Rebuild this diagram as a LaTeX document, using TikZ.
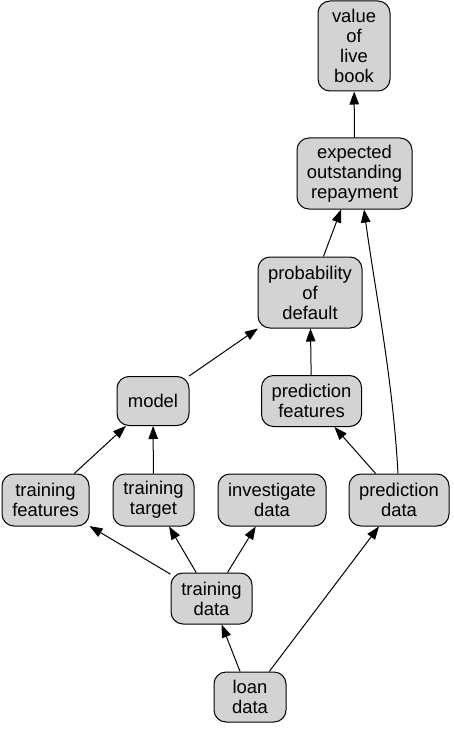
\documentclass[tikz,border=0pt]{standalone}
\usepackage{fontspec}
\setmainfont{Liberation Sans}
\usetikzlibrary{arrows.meta}
\definecolor{boxgray}{HTML}{D3D3D3}
\tikzset{
  box/.style={draw=black, fill=boxgray, rounded corners=12pt, line width=1pt,
    align=center, inner sep=0pt, font=\fontsize{18.4}{20}\selectfont},
  edge/.style={draw=black, line width=1pt, -{Triangle[length=13pt,width=9.5pt]}}
}
\begin{document}
\begin{tikzpicture}[x=1pt,y=-1pt]
\useasboundingbox (0,0) rectangle (454,730);
\node[box, minimum width=72pt, minimum height=90pt] (value) at (354,46) {value\\of\\live\\book};
\node[box, minimum width=115pt, minimum height=71pt] (expected) at (354.5,173.5) {expected\\outstanding\\repayment};
\node[box, minimum width=104pt, minimum height=71pt] (prob) at (310,292.5) {probability\\of\\default};
\node[box, minimum width=72pt, minimum height=49pt] (model) at (153,401) {model};
\node[box, minimum width=100pt, minimum height=51pt] (pfeat) at (311.5,401) {prediction\\features};
\node[box, minimum width=87pt, minimum height=52pt] (tfeat) at (45.5,500) {training\\features};
\node[box, minimum width=81pt, minimum height=52pt] (ttarget) at (153.5,500) {training\\target};
\node[box, minimum width=108pt, minimum height=52pt] (invest) at (272,500) {investigate\\data};
\node[box, minimum width=100pt, minimum height=52pt] (pdata) at (399,500) {prediction\\data};
\node[box, minimum width=81pt, minimum height=51pt] (tdata) at (211.5,598.5) {training\\data};
\node[box, minimum width=72pt, minimum height=50pt] (loan) at (250,697) {loan\\data};

\draw[edge] (loan) -- (tdata);
\draw[edge] (loan) -- (pdata);
\draw[edge] (tdata) -- (tfeat);
\draw[edge] (tdata) -- (ttarget);
\draw[edge] (tdata) -- (invest);
\draw[edge] (tfeat) -- (model);
\draw[edge] (ttarget) -- (model);
\draw[edge] (pdata) -- (pfeat);
\draw[edge] (model) -- (prob);
\draw[edge] (pfeat) -- (prob);
\draw[edge] (prob) -- (expected);
\draw[edge] (expected) -- (value);
\coordinate (c1) at (393,380);
\coordinate (c2) at (375,290);
\draw[edge] (pdata.north -| 398,0) .. controls (c1) and (c2) .. (expected.south -| 364,0);
\end{tikzpicture}
\end{document}
